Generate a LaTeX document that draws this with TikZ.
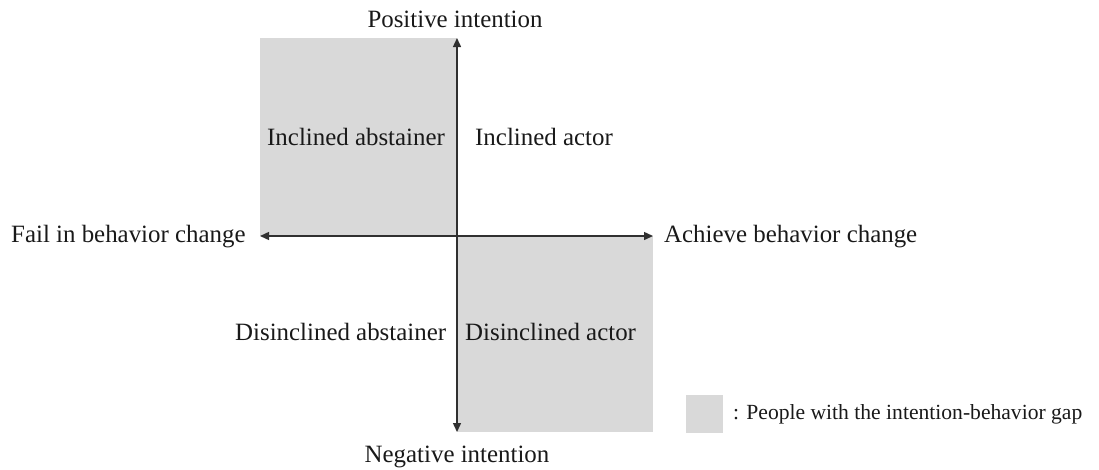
\documentclass[tikz,border=0pt]{standalone}
\usepackage{fontspec}
\setmainfont{Liberation Serif}
\usetikzlibrary{arrows.meta}
\definecolor{gapgray}{HTML}{D9D9D9}
\definecolor{axisgray}{HTML}{303030}
\tikzset{
  lbl/.style={inner sep=0pt, font=\fontsize{24.9}{30}\selectfont, text=black!90},
  legendlbl/.style={inner sep=0pt, font=\fontsize{21.6}{26}\selectfont, text=black!90},
  gapbox/.style={fill=gapgray, draw=none},
  axis/.style={draw=axisgray, line width=1.4pt, {Triangle[length=9pt,width=8pt]}-{Triangle[length=9pt,width=8pt]}}
}
\begin{document}
\begin{tikzpicture}[x=1pt,y=-1pt]
\useasboundingbox (0,0) rectangle (1099,469);
% shaded quadrants
\fill[gapbox] (260,38) rectangle (457,236);
\fill[gapbox] (457,236) rectangle (653,432);
% legend box
\node[gapbox, minimum width=37pt, minimum height=38pt, inner sep=0pt, anchor=north west] (legbox) at (686,395) {};
% axes end points
\coordinate (top) at (457,38);
\coordinate (bot) at (457,432);
\coordinate (lft) at (260,236);
\coordinate (rgt) at (653,236);
\draw[axis] (top) -- (bot);
\draw[axis] (lft) -- (rgt);
% axis labels
\node[lbl, anchor=base] (pos) at (455,27) {Positive intention};
\node[lbl, anchor=base] (neg) at (457,462) {Negative intention};
\node[lbl, anchor=base west] (fail) at (11,242) {Fail in behavior change};
\node[lbl, anchor=base west] (ach) at (664,242) {Achieve behavior change};
% quadrant labels
\node[lbl, anchor=base west] (ia) at (267,145) {Inclined abstainer};
\node[lbl, anchor=base west] (iact) at (475,145) {Inclined actor};
\node[lbl, anchor=base west] (da) at (235,340) {Disinclined abstainer};
\node[lbl, anchor=base west] (dact) at (465,340) {Disinclined actor};
% legend text
\node[legendlbl, anchor=base west] (legtxt) at (733,419) {: People with the intention-behavior gap};
\end{tikzpicture}
\end{document}
